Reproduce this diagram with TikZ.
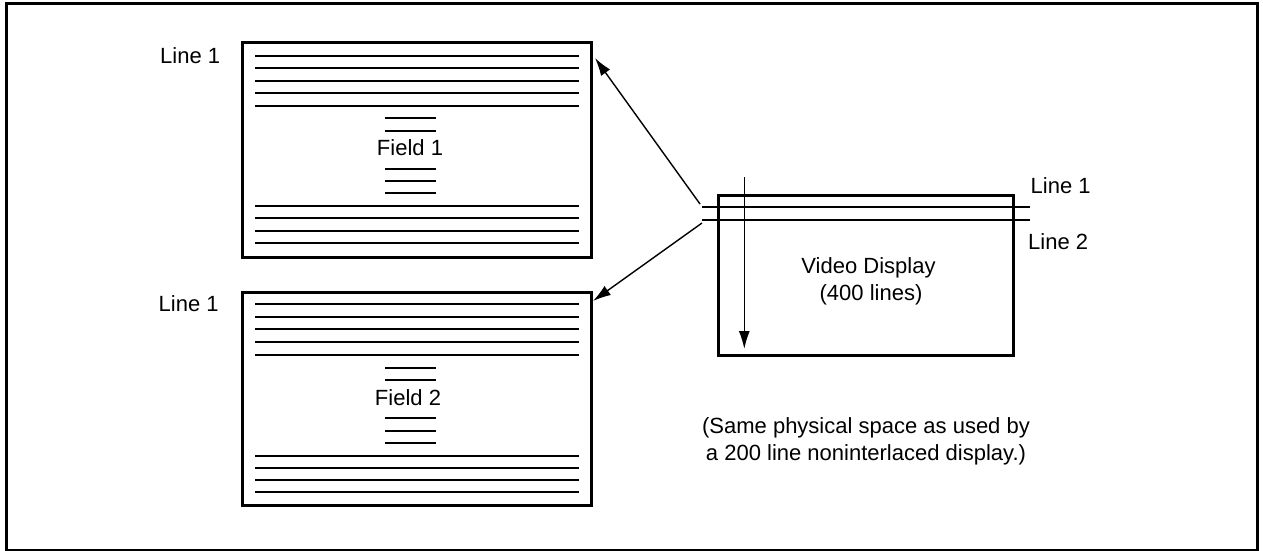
\documentclass[tikz,border=0pt]{standalone}
\usepackage{fontspec}
\setmainfont{Liberation Sans}
\usetikzlibrary{arrows.meta}
\begin{document}
\begin{tikzpicture}[x=1pt,y=-1pt,
  box/.style={draw,line width=3pt,inner sep=0pt,rectangle},
  scan/.style={line width=1.9pt},
  lbl/.style={font=\fontsize{22}{27}\selectfont,inner sep=0pt,anchor=base},
  lblw/.style={lbl,anchor=base west},
  arr/.style={line width=1.4pt,-{Latex[length=18pt,width=11pt]}},
  thinline/.style={line width=1.4pt}]
\useasboundingbox (0,0) rectangle (1263,551);
\node[box,minimum width=1251pt,minimum height=546pt] (frame) at (631.5,277) {};
% Field 1
\node[box,minimum width=349pt,minimum height=214pt] (f1) at (416.5,150) {};
\foreach \y in {55.7,68.3,80.7,93,105.7,205.7,218.3,231,243.3}
  \draw[scan] (255,\y) -- (579,\y);
\foreach \y in {118.3,130.7,169,181,193.3}
  \draw[scan] (385,\y) -- (436,\y);
\node[lbl] (t1) at (410,155) {Field 1};
\node[lblw] (l1a) at (160,63.5) {Line 1};
% Field 2
\node[box,minimum width=349pt,minimum height=213pt] (f2) at (416.5,398.5) {};
\foreach \y in {304.3,316.7,329.3,342.3,355,455.7,468.3,480,491.7}
  \draw[scan] (255,\y) -- (579,\y);
\foreach \y in {368.3,380,417.7,430.7,443.3}
  \draw[scan] (385,\y) -- (436,\y);
\node[lbl] (t2) at (408,405) {Field 2};
\node[lblw] (l1b) at (158.5,311.5) {Line 1};
% Video display
\node[box,minimum width=295pt,minimum height=160pt] (vd) at (865.5,275) {};
\node[lbl] (vdt1) at (868.5,273.5) {Video Display};
\node[lbl] (vdt2) at (871,300) {(400 lines)};
\coordinate (l1s) at (702,207);
\coordinate (l1e) at (1030,207);
\coordinate (l2s) at (702,220);
\coordinate (l2e) at (1030,220);
\draw[thinline] (l1s) -- (l1e);
\draw[thinline] (l2s) -- (l2e);
\node[lblw] (r1) at (1030.5,193) {Line 1};
\node[lblw] (r2) at (1028,249) {Line 2};
\coordinate (vs) at (744.3,177);
\coordinate (ve) at (744.3,349);
\draw[arr] (vs) -- (ve);
% arrows to fields
\coordinate (a1s) at (700,204);
\coordinate (a1e) at (595,58);
\coordinate (a2s) at (702,223);
\coordinate (a2e) at (593,301);
\draw[arr] (a1s) -- (a1e);
\draw[arr] (a2s) -- (a2e);
% note
\node[lbl] (n1) at (866,433) {(Same physical space as used by};
\node[lbl] (n2) at (866,460) {a 200 line noninterlaced display.)};
\end{tikzpicture}
\end{document}
